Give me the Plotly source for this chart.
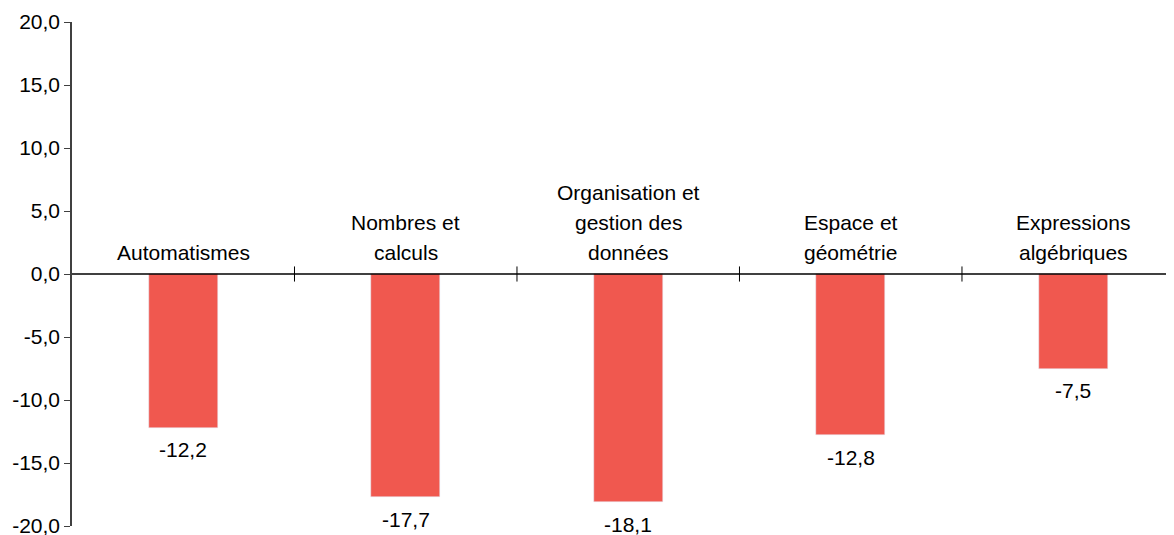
import plotly.graph_objects as go

# Data
categories = [
    "Automatismes",
    "Nombres et<br>calculs",
    "Organisation et<br>gestion des<br>données",
    "Espace et<br>géométrie",
    "Expressions<br>algébriques",
]
values = [-12.2, -17.7, -18.1, -12.8, -7.5]
y_ticks = [-20, -15, -10, -5, 0, 5, 10, 15, 20]


def fmt(v):
    # french decimal comma, plain hyphen for the minus sign
    return f"{v:.1f}".replace(".", ",")


FONT = "Liberation Sans, Arial, sans-serif"
FONT_SIZE = 21
BAR_COLOR = "#F0584F"
LINE_STEP = 30  # px between label lines

xs = list(range(len(categories)))

fig = go.Figure()
fig.add_trace(
    go.Bar(
        x=xs,
        y=values,
        width=0.31,
        marker_color=BAR_COLOR,
        hoverinfo="skip",
    )
)

# value labels under each bar
for x, v in zip(xs, values):
    fig.add_annotation(
        x=x, y=v, text=fmt(v), showarrow=False,
        xref="x", yref="y", yanchor="middle", yshift=-22,
        font={"family": FONT, "size": FONT_SIZE, "color": "#000000"},
    )

# category labels sit above the zero line, one annotation per line
for x, label in zip(xs, categories):
    lines = label.split("<br>")
    for j, line in enumerate(reversed(lines)):
        fig.add_annotation(
            x=x, y=0, text=line, showarrow=False,
            xref="x", yref="y", yanchor="middle", yshift=22 + LINE_STEP * j,
            font={"family": FONT, "size": FONT_SIZE, "color": "#000000"},
        )

# tick marks crossing the zero line between categories
for x in xs[:-1]:
    fig.add_shape(
        type="line", xref="x", yref="y",
        x0=x + 0.5, x1=x + 0.5, y0=-0.6, y1=0.6,
        line={"color": "#000000", "width": 1},
    )

# zero line across the whole width
fig.add_shape(
    type="line", xref="paper", yref="y",
    x0=0, x1=1, y0=0, y1=0,
    line={"color": "#000000", "width": 1.3},
)

# page body keeps its default 8px margin, so the figure is 8px smaller
fig.update_layout(
    width=1166,
    height=527,
    margin={"l": 64, "r": 0, "t": 14, "b": 9},
    plot_bgcolor="white",
    paper_bgcolor="white",
    showlegend=False,
    bargap=0,
    xaxis={
        "range": [-0.5, 4.453],
        "showticklabels": False,
        "showgrid": False,
        "zeroline": False,
        "showline": False,
        "ticks": "",
        "automargin": False,
    },
    yaxis={
        "range": [-20, 20],
        "tickvals": y_ticks,
        "ticktext": [fmt(v) for v in y_ticks],
        "ticklabeloverflow": "allow",
        "showgrid": False,
        "zeroline": False,
        "showline": True,
        "linecolor": "#404040",
        "linewidth": 1.5,
        "ticks": "outside",
        "ticklen": 6,
        "tickcolor": "#404040",
        "tickfont": {"family": FONT, "size": FONT_SIZE, "color": "#000000"},
        "automargin": False,
    },
)

fig.write_html("out.html")
